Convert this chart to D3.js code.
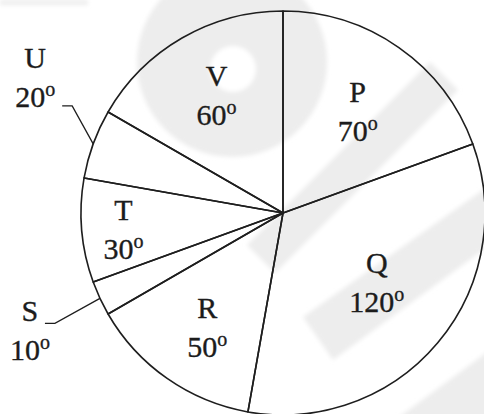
<!DOCTYPE html>
<html>
<head>
<meta charset="utf-8">
<script src="https://cdn.jsdelivr.net/npm/d3@7"></script>
<style>
  html, body { margin: 0; padding: 0; background: #fff; }
  svg { display: block; }
  text { font-family: "Liberation Serif", "Times New Roman", serif; fill: #1c1c1c; stroke: #1c1c1c; stroke-width: 0.35; }
</style>
</head>
<body>
<svg id="chart" width="484" height="414"></svg>
<script>
// sectors of the circle, clockwise from 12 o'clock
var sectorNames = ["P", "Q", "R", "S", "T", "U", "V"];
var sectorDegrees = [70, 120, 50, 10, 30, 20, 60];

var Width = 484, Height = 414;
var CenterX = 283, CenterY = 213, Radius = 202;
var FontSize = 30, LineGap = 39;

// where each label sits, as a nudge from a point at LabelRadius on the mid angle
var LabelRadius = 125;
var LabelNudge = {
	P: [3, -9],
	Q: [-2, -20],
	R: [-4, 3],
	T: [-35, -4],
	V: [-4, -19]
};
// the two thin sectors get their label outside with a leader line
var Leaders = {
	U: {elbow: [-21, -38], text: [-27, -38]},
	S: {elbow: [-45, 25], text: [-15, -2]}
};

var Svg = d3.select("#chart");

var Defs = Svg.append("defs");
Defs.append("filter")
	.attr("id", "soft")
	.append("feGaussianBlur")
	.attr("stdDeviation", 2);

// faint watermark behind the chart
var Mark = Svg.append("g")
	.attr("fill", "#ededed")
	.attr("filter", "url(#soft)");

Mark.append("circle").attr("cx", 232).attr("cy", 62).attr("r", 95);
Mark.append("circle").attr("cx", 233).attr("cy", 69).attr("r", 23).attr("fill", "#fff");
Mark.append("polygon").attr("points", "247,245 275,273 458,90 430,62");
Mark.append("polygon").attr("points", "303,317 333,360 490,245 490,185");
Mark.append("polygon").attr("points", "395,420 490,420 490,350");
Mark.append("rect").attr("x", 0).attr("y", 0).attr("width", 88).attr("height", 5);

var Slices = sectorNames.map(function(name, i)
	{
		return {name: name, value: sectorDegrees[i]};
	}
);

var Pie = d3.pie()
	.sort(null)
	.value(function(d) { return d.value; });

var Arcs = Pie(Slices);

var Arc = d3.arc()
	.innerRadius(0)
	.outerRadius(Radius);

var Chart = Svg.append("g")
	.attr("transform", "translate(" + CenterX + "," + CenterY + ")");

Chart.selectAll("path.slice")
	.data(Arcs)
	.enter()
	.append("path")
	.attr("class", "slice")
	.attr("d", Arc)
	.attr("fill", "none")
	.attr("stroke", "#1e1e1e")
	.attr("stroke-width", 1.6)
	.attr("stroke-linejoin", "round");

function midAngle(d)
{
	return (d.startAngle + d.endAngle) / 2;
}

function writeLabel(g, x, y, d)
{
	g.append("text")
		.attr("x", x)
		.attr("y", y)
		.attr("text-anchor", "middle")
		.attr("font-size", FontSize)
		.text(d.data.name);

	var Value = g.append("text")
		.attr("x", x)
		.attr("y", y + LineGap)
		.attr("text-anchor", "middle")
		.attr("font-size", FontSize);
	Value.append("tspan").text(d.data.value);
	Value.append("tspan")
		.attr("font-size", 20)
		.attr("dy", -11)
		.text("o");
}

Arcs.forEach(function(d)
	{
		var Angle = midAngle(d);
		if (Leaders[d.data.name])
		{
			var Lead = Leaders[d.data.name];
			var Start = d3.pointRadial(Angle, Radius);
			var Elbow = [Start[0] + Lead.elbow[0], Start[1] + Lead.elbow[1]];
			var End = [Elbow[0] - 10, Elbow[1]];
			Chart.append("path")
				.attr("d", d3.line()([Start, Elbow, End]))
				.attr("fill", "none")
				.attr("stroke", "#1e1e1e")
				.attr("stroke-width", 1.3);
			writeLabel(Chart, End[0] + Lead.text[0], End[1] + Lead.text[1], d);
		} else
		{
			var P = d3.pointRadial(Angle, LabelRadius);
			var N = LabelNudge[d.data.name];
			writeLabel(Chart, P[0] + N[0], P[1] + N[1], d);
		}
	}
);
</script>
</body>
</html>
